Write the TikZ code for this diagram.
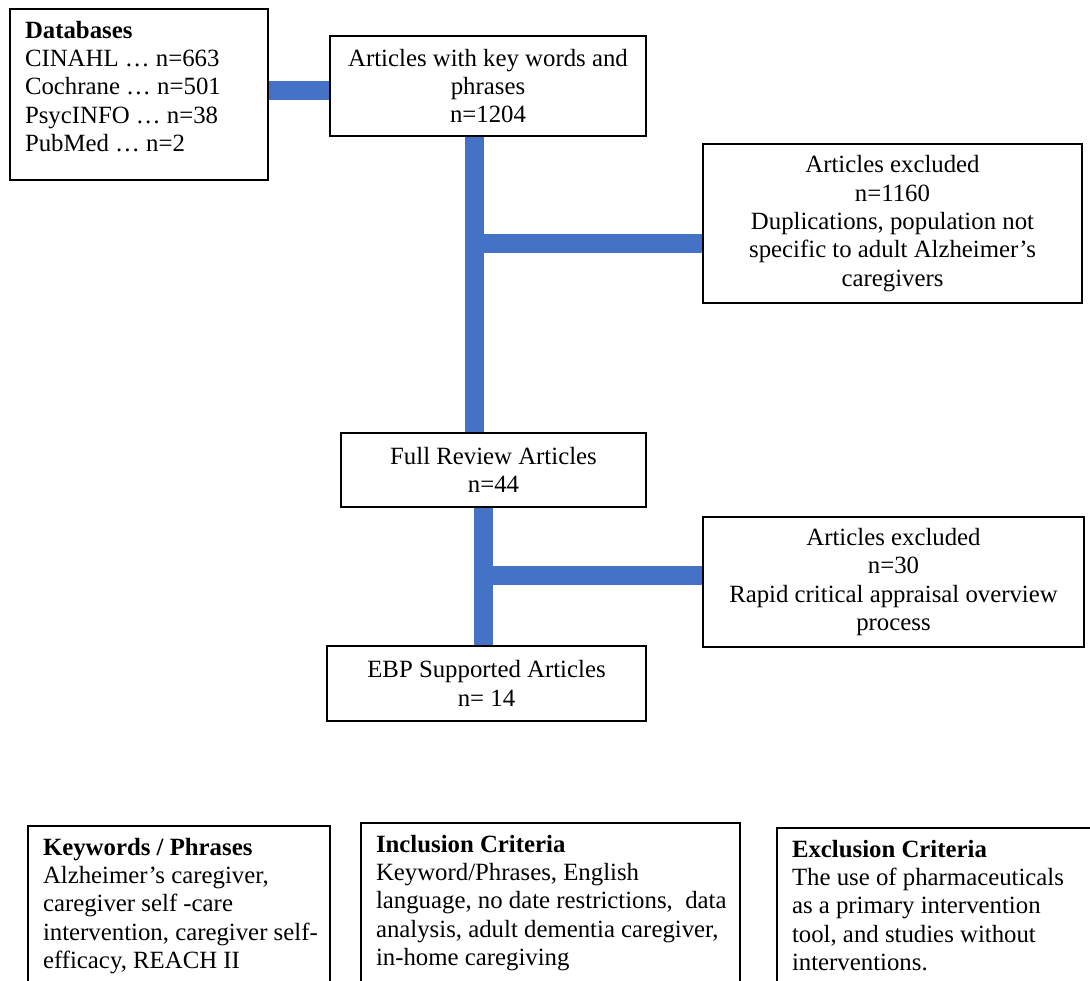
\documentclass[tikz,border=0pt]{standalone}
\usepackage{fontspec}
\setmainfont{Liberation Serif}
\usepackage{tikz}
\usetikzlibrary{calc}

\definecolor{barblue}{HTML}{4472C4}

% top aligned list of lines in a box of fixed height
\newcommand{\listtext}[3]{\parbox[c][#1][t]{#2}{\begin{tabular}[t]{@{}l@{}}#3\end{tabular}}}

\begin{document}
\begin{tikzpicture}[x=1pt, y=-1pt,
    font=\fontsize{24.8}{28.3}\selectfont,
    box/.style={draw, line width=1.3pt, fill=white, align=center, inner sep=0pt},
    listbox/.style={draw, line width=1.3pt, fill=white, inner xsep=15pt, inner ysep=9.5pt},
    bar/.style={draw=barblue, line width=19pt}]
    \useasboundingbox (0,0) rectangle (1090,981);

    % Search
    \node[listbox] (db) at (139,94.5) {\listtext{152pt}{228pt}{\textbf{Databases}\\ CINAHL … n=663\\ Cochrane … n=501\\ PsycINFO … n=38\\ PubMed … n=2}};
    \node[box, minimum width=316pt, minimum height=100pt] (art) at (488,86) {Articles with key words and\\ phrases\\ n=1204};

    % Screening
    \node[box, minimum width=379pt, minimum height=159pt] (excA) at (892.5,223.5) {Articles excluded\\ n=1160\\ Duplications, population not\\ specific to adult Alzheimer’s\\ caregivers};
    \node[box, minimum width=305pt, minimum height=74pt] (full) at (493.5,470) {Full Review Articles\\ n=44};

    % Appraisal
    \node[box, minimum width=381pt, minimum height=130pt] (excB) at (893.5,582) {Articles excluded\\ n=30\\ Rapid critical appraisal overview\\ process};
    \node[box, minimum width=319pt, minimum height=75pt] (ebp) at (486.5,683.5) {EBP Supported Articles\\ n= 14};

    % Connectors
    \coordinate (jDb) at (299,90.5);
    \coordinate (jA) at (474.5,243.5);
    \coordinate (jB) at (483,575.5);
    \draw[bar] (jDb -| db.east) -- (jDb -| art.west);
    \draw[bar] (jA) -- (jA -| excA.west);
    \draw[bar] (jA |- art.south) -- (jA |- full.north);
    \draw[bar] (jB) -- (jB -| excB.west);
    \draw[bar] (jB |- full.south) -- (jB |- ebp.north);

    % Criteria
    \node[listbox] (kw) at (179,928) {\listtext{185pt}{272pt}{\textbf{Keywords / Phrases}\\ Alzheimer’s caregiver,\\ caregiver self -care\\ intervention, caregiver self-\\ efficacy, REACH II}};
    \node[listbox] (inc) at (550.5,925) {\listtext{185pt}{349pt}{\textbf{Inclusion Criteria}\\ Keyword/Phrases, English\\ language, no date restrictions,~ data\\ analysis, adult dementia caregiver,\\ in-home caregiving}};
    \node[listbox] (exl) at (937,930) {\listtext{185pt}{290pt}{\textbf{Exclusion Criteria}\\ The use of pharmaceuticals\\ as a primary intervention\\ tool, and studies without\\ interventions.}};
\end{tikzpicture}
\end{document}
